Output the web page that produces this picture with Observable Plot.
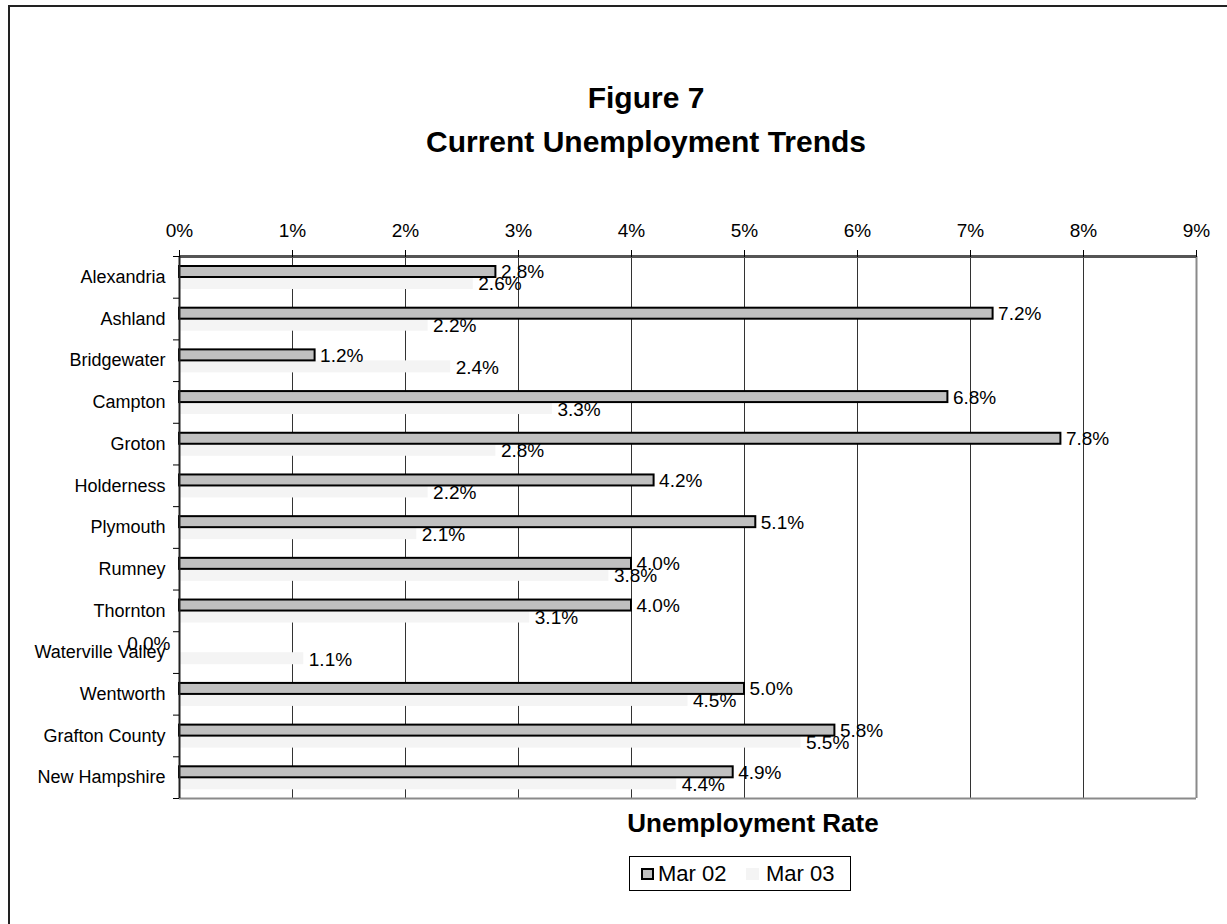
<!DOCTYPE html>
<html>
<head>
<meta charset="utf-8">
<script src="https://cdn.jsdelivr.net/npm/d3@7"></script>
<script src="https://cdn.jsdelivr.net/npm/@observablehq/plot@0.6"></script>
<style>
  html, body { margin: 0; padding: 0; background: #fff; overflow: hidden; }
  body { font-family: "Liberation Sans", Arial, sans-serif; color: #000; }
  #page { position: relative; width: 1227px; height: 924px; overflow: hidden; }
  #frame { position: absolute; left: 8px; top: 5px; width: 1400px; height: 1100px;
           border-left: 2px solid #222; border-top: 2px solid #222; box-sizing: border-box; }
  #title { position: absolute; left: 646px; top: 76px; transform: translateX(-50%);
           font-size: 30px; font-weight: bold; line-height: 44px; text-align: center; white-space: nowrap; }
  #chart { position: absolute; left: 0; top: 0; }
  #xlabel { position: absolute; left: 753px; top: 808px; transform: translateX(-50%);
            font-size: 26px; font-weight: bold; line-height: 30px; white-space: nowrap; }
  #legend { position: absolute; left: 629px; top: 856px; width: 222px; height: 35px;
            border: 1px solid #000; box-sizing: border-box; }
  .sw { position: absolute; top: 11px; width: 13px; height: 12px; box-sizing: border-box; }
  .lt { position: absolute; top: 4px; font-size: 22px; line-height: 26px; white-space: nowrap; }
</style>
</head>
<body>
<div id="page">
  <div id="frame"></div>
  <div id="chart"></div>
  <div id="title"></div>
  <div id="xlabel"></div>
  <div id="legend"></div>
</div>
<script>
// ---- data ----
const titleLines = ["Figure 7", "Current Unemployment Trends"];
const xAxisTitle = "Unemployment Rate";
const categories = ["Alexandria", "Ashland", "Bridgewater", "Campton", "Groton", "Holderness",
  "Plymouth", "Rumney", "Thornton", "Waterville Valley", "Wentworth", "Grafton County", "New Hampshire"];
const seriesNames = ["Mar 02", "Mar 03"];
const mar02 = [2.8, 7.2, 1.2, 6.8, 7.8, 4.2, 5.1, 4.0, 4.0, 0.0, 5.0, 5.8, 4.9];
const mar03 = [2.6, 2.2, 2.4, 3.3, 2.8, 2.2, 2.1, 3.8, 3.1, 1.1, 4.5, 5.5, 4.4];
const xTicks = [0, 1, 2, 3, 4, 5, 6, 7, 8, 9];
const seriesColors = ["#c0c0c0", "#f4f4f4"];

// ---- layout ----
const W = 1227, H = 924;
const mTop = 256, mBottom = 126, mLeft = 179, mRight = 31;
const step = (H - mTop - mBottom) / categories.length;
const fmt = v => v.toFixed(1) + "%";

const rows02 = categories.map((c, i) => ({category: c, value: mar02[i]}));
const rows03 = categories.map((c, i) => ({category: c, value: mar03[i]}));

document.getElementById("title").innerHTML = titleLines.map(t => `<div>${t}</div>`).join("");
document.getElementById("xlabel").textContent = xAxisTitle;

const chart = Plot.plot({
  width: W, height: H,
  marginTop: mTop, marginBottom: mBottom, marginLeft: mLeft, marginRight: mRight,
  style: {fontFamily: "'Liberation Sans', Arial, sans-serif", fontSize: "18px", background: "transparent", color: "#000"},
  x: {domain: [xTicks[0], xTicks[xTicks.length - 1]], axis: null, label: null},
  y: {domain: categories, padding: 0, round: false, axis: null, label: null},
  marks: [
    // vertical gridlines
    Plot.ruleX(xTicks.slice(1, -1), {stroke: "#333", strokeWidth: 1}),
    // bars
    Plot.barX(rows03, {x: "value", y: "category", fill: seriesColors[1], insetTop: 21, insetBottom: step - 33}),
    Plot.barX(rows02.filter(d => d.value > 0), {x: "value", y: "category", fill: seriesColors[0],
      stroke: "#000", strokeWidth: 2, insetTop: 10, insetBottom: step - 21}),
    // plot area border
    Plot.ruleX([xTicks[xTicks.length - 1]], {stroke: "#8a8a8a", strokeWidth: 2}),
    Plot.ruleY([categories[categories.length - 1]], {dy: step / 2, stroke: "#8a8a8a", strokeWidth: 2}),
    Plot.ruleY([categories[0]], {dy: -step / 2, stroke: "#555", strokeWidth: 3}),
    Plot.ruleX([xTicks[0]], {stroke: "#222", strokeWidth: 2}),
    // category boundary ticks on the left axis
    Plot.ruleY(categories, {dy: step / 2, x1: 0, x2: 0, insetLeft: -6, stroke: "#000"}),
    Plot.ruleY([categories[0]], {dy: -step / 2, x1: 0, x2: 0, insetLeft: -6, stroke: "#000"}),
    // axes
    Plot.axisX({anchor: "top", ticks: xTicks, tickFormat: d => d + "%", tickSize: 7, tickPadding: 13, fontSize: 19, label: null}),
    Plot.axisY({anchor: "left", tickSize: 0, tickPadding: 14, fontSize: 18, label: null}),
    // value labels
    Plot.text(rows02.filter(d => d.value > 0), {x: "value", y: "category", text: d => fmt(d.value),
      textAnchor: "start", dx: 5, dy: -5, fontSize: 19, fill: "#000"}),
    Plot.text(rows02.filter(d => d.value === 0), {x: "value", y: "category", text: d => fmt(d.value),
      textAnchor: "end", dx: -9, dy: -9, fontSize: 19, fill: "#000"}),
    Plot.text(rows03, {x: "value", y: "category", text: d => fmt(d.value),
      textAnchor: "start", dx: 5, dy: 7, fontSize: 19, fill: "#000"})
  ]
});
document.getElementById("chart").appendChild(chart);

// legend
const legend = document.getElementById("legend");
const swLeft = [11, 116], txLeft = [28, 136];
seriesNames.forEach((name, i) => {
  const sw = document.createElement("div");
  sw.className = "sw";
  sw.style.left = swLeft[i] + "px";
  sw.style.background = seriesColors[i];
  if (i === 0) sw.style.border = "2px solid #000";
  legend.appendChild(sw);
  const t = document.createElement("div");
  t.className = "lt";
  t.style.left = txLeft[i] + "px";
  t.textContent = name;
  legend.appendChild(t);
});
</script>
</body>
</html>
